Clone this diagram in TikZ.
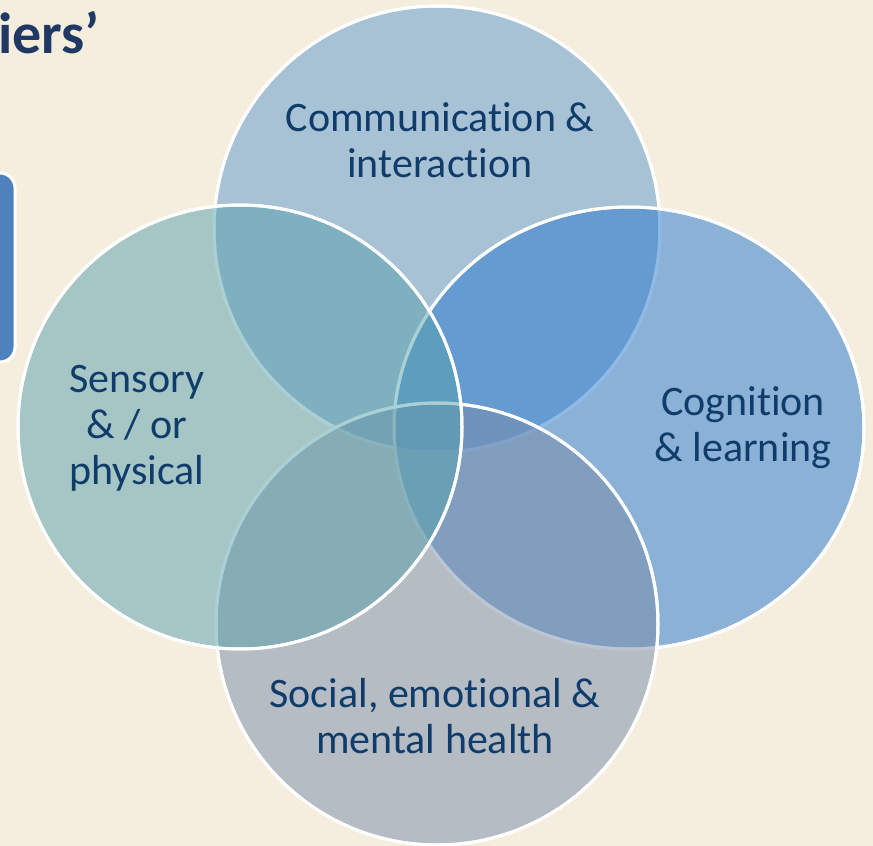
\documentclass[tikz,border=0pt]{standalone}
\usepackage{fontspec}
\setmainfont{Carlito}[Ligatures={NoCommon,NoContextual}]
\usepackage{tikz}
\usetikzlibrary{positioning}

\definecolor{bgbeige}{RGB}{245,238,222}
\definecolor{navytext}{RGB}{16,60,107}
\definecolor{navytitle}{RGB}{31,56,100}
\definecolor{boxblue}{RGB}{79,129,189}
\definecolor{commblue}{RGB}{93,152,205}
\definecolor{cogblue}{RGB}{35,118,207}
\definecolor{socgrey}{RGB}{121,140,169}
\definecolor{senteal}{RGB}{87,160,171}

\tikzset{
  ring/.style={draw=white, line width=3pt, fill opacity=0.5},
  area/.style={text=navytext, font=\fontsize{42}{46}\selectfont, align=center}
}

\begin{document}
\begin{tikzpicture}[x=1pt, y=-1pt]

    \useasboundingbox (0, 0) rectangle (873, 846);
    \fill [bgbeige] (0, 0) rectangle (873, 846);

    \node (t) [anchor=base west, inner sep=0pt, text=navytitle, font=\fontsize{58}{60}\selectfont\bfseries] at (-2, 53) {iers’};
    \draw [fill=boxblue, draw=white, line width=3pt, rounded corners=15pt] (-40, 173) rectangle (15, 362);

    \fill [ring, fill=commblue] (437, 229) circle [radius=223pt];
    \draw [white, line width=3pt] (437, 229) circle [radius=223pt];
    \fill [ring, fill=cogblue] (629, 428) ellipse [x radius=235pt, y radius=221pt];
    \draw [white, line width=3pt] (629, 428) ellipse [x radius=235pt, y radius=221pt];
    \fill [ring, fill=socgrey] (437, 624) circle [radius=221pt];
    \draw [white, line width=3pt] (437, 624) circle [radius=221pt];
    \fill [ring, fill=senteal] (240, 427) circle [radius=222pt];
    \draw [white, line width=3pt] (240, 427) circle [radius=222pt];

    \node (a) [area] at (440, 140) {Communication \&\\interaction};
    \node (b) [area] at (137, 428) {Sensory\\\& / or\\physical};
    \node (c) [area] at (743, 428) {Cognition\\\& learning};
    \node (d) [area] at (435, 716) {Social, emotional \&\\mental health};

\end{tikzpicture}
\end{document}
